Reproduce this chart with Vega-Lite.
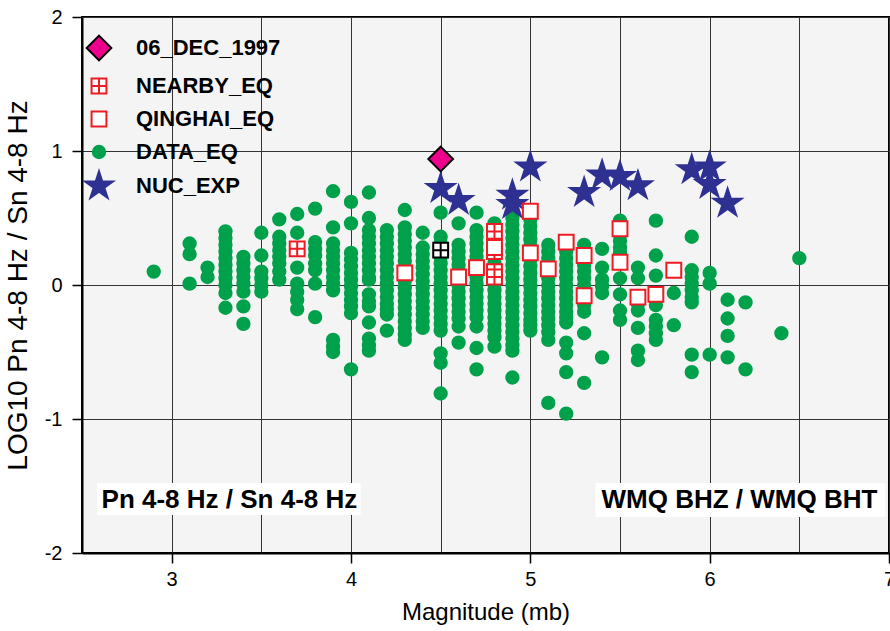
{
 "$schema": "https://vega.github.io/schema/vega-lite/v6.json",
 "width": 807,
 "height": 536,
 "autosize": "none",
 "padding": {"left": 82, "top": 17, "right": 1, "bottom": 78},
 "background": "white",
 "config": {
  "font": "Liberation Sans",
  "view": {"fill": "#f4f4f4", "stroke": "#000000", "strokeWidth": 2},
  "axis": {
   "domainColor": "#000000", "domainWidth": 2,
   "tickColor": "#000000", "tickWidth": 1.5, "tickSize": 10,
   "gridColor": "#333333", "gridWidth": 1, "gridOpacity": 1,
   "labelFont": "Liberation Sans", "labelFontSize": 20, "labelColor": "#000000",
   "titleFont": "Liberation Sans", "titleFontWeight": "normal", "titleColor": "#000000"
  },
  "axisX": {"labelPadding": 6, "titlePadding": 11, "titleFontSize": 24},
  "axisY": {"labelPadding": 10, "titlePadding": 12, "titleFontSize": 28},
  "legend": {
   "labelFont": "Liberation Sans", "labelFontWeight": "bold", "labelFontSize": 22, "labelColor": "#000000",
   "labelOffset": 20, "labelLimit": 300, "symbolSize": 1000, "symbolStrokeWidth": 2, "rowPadding": 4,
   "symbolOpacity": 1, "padding": 0
  }
 },
 "datasets": {
  "pts": [
   {"m":2.9,"r":0.10,"t":"DATA_EQ"},
   {"m":3.1,"r":0.31,"t":"DATA_EQ"},{"m":3.1,"r":0.23,"t":"DATA_EQ"},{"m":3.1,"r":0.01,"t":"DATA_EQ"},
   {"m":3.2,"r":0.13,"t":"DATA_EQ"},{"m":3.2,"r":0.06,"t":"DATA_EQ"},
   {"m":3.3,"r":0.40,"t":"DATA_EQ"},{"m":3.3,"r":0.35,"t":"DATA_EQ"},{"m":3.3,"r":0.30,"t":"DATA_EQ"},{"m":3.3,"r":0.25,"t":"DATA_EQ"},{"m":3.3,"r":0.20,"t":"DATA_EQ"},{"m":3.3,"r":0.15,"t":"DATA_EQ"},{"m":3.3,"r":0.10,"t":"DATA_EQ"},{"m":3.3,"r":0.05,"t":"DATA_EQ"},{"m":3.3,"r":0.00,"t":"DATA_EQ"},{"m":3.3,"r":-0.06,"t":"DATA_EQ"},{"m":3.3,"r":-0.17,"t":"DATA_EQ"},
   {"m":3.4,"r":0.21,"t":"DATA_EQ"},{"m":3.4,"r":0.16,"t":"DATA_EQ"},{"m":3.4,"r":0.11,"t":"DATA_EQ"},{"m":3.4,"r":0.06,"t":"DATA_EQ"},{"m":3.4,"r":0.01,"t":"DATA_EQ"},{"m":3.4,"r":-0.05,"t":"DATA_EQ"},{"m":3.4,"r":-0.16,"t":"DATA_EQ"},{"m":3.4,"r":-0.29,"t":"DATA_EQ"},
   {"m":3.5,"r":0.39,"t":"DATA_EQ"},{"m":3.5,"r":0.22,"t":"DATA_EQ"},{"m":3.5,"r":0.10,"t":"DATA_EQ"},{"m":3.5,"r":0.05,"t":"DATA_EQ"},{"m":3.5,"r":0.00,"t":"DATA_EQ"},{"m":3.5,"r":-0.05,"t":"DATA_EQ"},
   {"m":3.6,"r":0.49,"t":"DATA_EQ"},{"m":3.6,"r":0.36,"t":"DATA_EQ"},{"m":3.6,"r":0.31,"t":"DATA_EQ"},{"m":3.6,"r":0.26,"t":"DATA_EQ"},{"m":3.6,"r":0.21,"t":"DATA_EQ"},{"m":3.6,"r":0.16,"t":"DATA_EQ"},{"m":3.6,"r":0.10,"t":"DATA_EQ"},{"m":3.6,"r":0.04,"t":"DATA_EQ"},
   {"m":3.7,"r":0.53,"t":"DATA_EQ"},{"m":3.7,"r":0.39,"t":"DATA_EQ"},{"m":3.7,"r":0.13,"t":"DATA_EQ"},{"m":3.7,"r":0.01,"t":"DATA_EQ"},{"m":3.7,"r":-0.05,"t":"DATA_EQ"},{"m":3.7,"r":-0.11,"t":"DATA_EQ"},{"m":3.7,"r":-0.18,"t":"DATA_EQ"},
   {"m":3.8,"r":0.57,"t":"DATA_EQ"},{"m":3.8,"r":0.32,"t":"DATA_EQ"},{"m":3.8,"r":0.27,"t":"DATA_EQ"},{"m":3.8,"r":0.22,"t":"DATA_EQ"},{"m":3.8,"r":0.16,"t":"DATA_EQ"},{"m":3.8,"r":0.11,"t":"DATA_EQ"},{"m":3.8,"r":0.01,"t":"DATA_EQ"},{"m":3.8,"r":-0.24,"t":"DATA_EQ"},
   {"m":3.9,"r":0.70,"t":"DATA_EQ"},{"m":3.9,"r":0.43,"t":"DATA_EQ"},{"m":3.9,"r":0.31,"t":"DATA_EQ"},{"m":3.9,"r":0.26,"t":"DATA_EQ"},{"m":3.9,"r":0.21,"t":"DATA_EQ"},{"m":3.9,"r":0.16,"t":"DATA_EQ"},{"m":3.9,"r":0.11,"t":"DATA_EQ"},{"m":3.9,"r":0.06,"t":"DATA_EQ"},{"m":3.9,"r":0.01,"t":"DATA_EQ"},{"m":3.9,"r":-0.04,"t":"DATA_EQ"},{"m":3.9,"r":-0.41,"t":"DATA_EQ"},{"m":3.9,"r":-0.46,"t":"DATA_EQ"},{"m":3.9,"r":-0.50,"t":"DATA_EQ"},
   {"m":4.0,"r":0.62,"t":"DATA_EQ"},{"m":4.0,"r":0.46,"t":"DATA_EQ"},{"m":4.0,"r":0.24,"t":"DATA_EQ"},{"m":4.0,"r":0.19,"t":"DATA_EQ"},{"m":4.0,"r":0.14,"t":"DATA_EQ"},{"m":4.0,"r":0.09,"t":"DATA_EQ"},{"m":4.0,"r":0.04,"t":"DATA_EQ"},{"m":4.0,"r":-0.01,"t":"DATA_EQ"},{"m":4.0,"r":-0.06,"t":"DATA_EQ"},{"m":4.0,"r":-0.11,"t":"DATA_EQ"},{"m":4.0,"r":-0.16,"t":"DATA_EQ"},{"m":4.0,"r":-0.21,"t":"DATA_EQ"},{"m":4.0,"r":-0.63,"t":"DATA_EQ"},
   {"m":4.1,"r":0.69,"t":"DATA_EQ"},{"m":4.1,"r":0.50,"t":"DATA_EQ"},{"m":4.1,"r":0.41,"t":"DATA_EQ"},{"m":4.1,"r":0.36,"t":"DATA_EQ"},{"m":4.1,"r":0.31,"t":"DATA_EQ"},{"m":4.1,"r":0.26,"t":"DATA_EQ"},{"m":4.1,"r":0.21,"t":"DATA_EQ"},{"m":4.1,"r":0.16,"t":"DATA_EQ"},{"m":4.1,"r":0.11,"t":"DATA_EQ"},{"m":4.1,"r":0.06,"t":"DATA_EQ"},{"m":4.1,"r":0.04,"t":"DATA_EQ"},{"m":4.1,"r":-0.07,"t":"DATA_EQ"},{"m":4.1,"r":-0.12,"t":"DATA_EQ"},{"m":4.1,"r":-0.16,"t":"DATA_EQ"},{"m":4.1,"r":-0.28,"t":"DATA_EQ"},{"m":4.1,"r":-0.40,"t":"DATA_EQ"},{"m":4.1,"r":-0.45,"t":"DATA_EQ"},{"m":4.1,"r":-0.49,"t":"DATA_EQ"},
   {"m":4.2,"r":0.41,"t":"DATA_EQ"},{"m":4.2,"r":0.36,"t":"DATA_EQ"},{"m":4.2,"r":0.31,"t":"DATA_EQ"},{"m":4.2,"r":0.26,"t":"DATA_EQ"},{"m":4.2,"r":0.21,"t":"DATA_EQ"},{"m":4.2,"r":0.16,"t":"DATA_EQ"},{"m":4.2,"r":0.11,"t":"DATA_EQ"},{"m":4.2,"r":0.06,"t":"DATA_EQ"},{"m":4.2,"r":0.01,"t":"DATA_EQ"},{"m":4.2,"r":-0.04,"t":"DATA_EQ"},{"m":4.2,"r":-0.09,"t":"DATA_EQ"},{"m":4.2,"r":-0.14,"t":"DATA_EQ"},{"m":4.2,"r":-0.18,"t":"DATA_EQ"},{"m":4.2,"r":-0.22,"t":"DATA_EQ"},{"m":4.2,"r":-0.34,"t":"DATA_EQ"},
   {"m":4.3,"r":0.56,"t":"DATA_EQ"},{"m":4.3,"r":0.43,"t":"DATA_EQ"},{"m":4.3,"r":0.38,"t":"DATA_EQ"},{"m":4.3,"r":0.33,"t":"DATA_EQ"},{"m":4.3,"r":0.28,"t":"DATA_EQ"},{"m":4.3,"r":0.23,"t":"DATA_EQ"},{"m":4.3,"r":0.18,"t":"DATA_EQ"},{"m":4.3,"r":0.13,"t":"DATA_EQ"},{"m":4.3,"r":0.08,"t":"DATA_EQ"},{"m":4.3,"r":0.03,"t":"DATA_EQ"},{"m":4.3,"r":-0.02,"t":"DATA_EQ"},{"m":4.3,"r":-0.07,"t":"DATA_EQ"},{"m":4.3,"r":-0.12,"t":"DATA_EQ"},{"m":4.3,"r":-0.17,"t":"DATA_EQ"},{"m":4.3,"r":-0.22,"t":"DATA_EQ"},{"m":4.3,"r":-0.27,"t":"DATA_EQ"},{"m":4.3,"r":-0.32,"t":"DATA_EQ"},{"m":4.3,"r":-0.37,"t":"DATA_EQ"},{"m":4.3,"r":-0.41,"t":"DATA_EQ"},
   {"m":4.4,"r":0.39,"t":"DATA_EQ"},{"m":4.4,"r":0.28,"t":"DATA_EQ"},{"m":4.4,"r":0.23,"t":"DATA_EQ"},{"m":4.4,"r":0.18,"t":"DATA_EQ"},{"m":4.4,"r":0.13,"t":"DATA_EQ"},{"m":4.4,"r":0.08,"t":"DATA_EQ"},{"m":4.4,"r":0.03,"t":"DATA_EQ"},{"m":4.4,"r":-0.02,"t":"DATA_EQ"},{"m":4.4,"r":-0.07,"t":"DATA_EQ"},{"m":4.4,"r":-0.12,"t":"DATA_EQ"},{"m":4.4,"r":-0.17,"t":"DATA_EQ"},{"m":4.4,"r":-0.22,"t":"DATA_EQ"},{"m":4.4,"r":-0.27,"t":"DATA_EQ"},{"m":4.4,"r":-0.32,"t":"DATA_EQ"},
   {"m":4.5,"r":0.54,"t":"DATA_EQ"},{"m":4.5,"r":0.36,"t":"DATA_EQ"},{"m":4.5,"r":0.31,"t":"DATA_EQ"},{"m":4.5,"r":0.26,"t":"DATA_EQ"},{"m":4.5,"r":0.21,"t":"DATA_EQ"},{"m":4.5,"r":0.16,"t":"DATA_EQ"},{"m":4.5,"r":0.11,"t":"DATA_EQ"},{"m":4.5,"r":0.06,"t":"DATA_EQ"},{"m":4.5,"r":0.01,"t":"DATA_EQ"},{"m":4.5,"r":-0.04,"t":"DATA_EQ"},{"m":4.5,"r":-0.09,"t":"DATA_EQ"},{"m":4.5,"r":-0.14,"t":"DATA_EQ"},{"m":4.5,"r":-0.19,"t":"DATA_EQ"},{"m":4.5,"r":-0.24,"t":"DATA_EQ"},{"m":4.5,"r":-0.29,"t":"DATA_EQ"},{"m":4.5,"r":-0.34,"t":"DATA_EQ"},{"m":4.5,"r":-0.51,"t":"DATA_EQ"},{"m":4.5,"r":-0.58,"t":"DATA_EQ"},{"m":4.5,"r":-0.81,"t":"DATA_EQ"},
   {"m":4.6,"r":0.46,"t":"DATA_EQ"},{"m":4.6,"r":0.30,"t":"DATA_EQ"},{"m":4.6,"r":0.25,"t":"DATA_EQ"},{"m":4.6,"r":0.20,"t":"DATA_EQ"},{"m":4.6,"r":0.15,"t":"DATA_EQ"},{"m":4.6,"r":0.10,"t":"DATA_EQ"},{"m":4.6,"r":0.05,"t":"DATA_EQ"},{"m":4.6,"r":0.00,"t":"DATA_EQ"},{"m":4.6,"r":-0.05,"t":"DATA_EQ"},{"m":4.6,"r":-0.10,"t":"DATA_EQ"},{"m":4.6,"r":-0.15,"t":"DATA_EQ"},{"m":4.6,"r":-0.20,"t":"DATA_EQ"},{"m":4.6,"r":-0.25,"t":"DATA_EQ"},{"m":4.6,"r":-0.31,"t":"DATA_EQ"},{"m":4.6,"r":-0.43,"t":"DATA_EQ"},
   {"m":4.7,"r":0.54,"t":"DATA_EQ"},{"m":4.7,"r":0.41,"t":"DATA_EQ"},{"m":4.7,"r":0.36,"t":"DATA_EQ"},{"m":4.7,"r":0.31,"t":"DATA_EQ"},{"m":4.7,"r":0.26,"t":"DATA_EQ"},{"m":4.7,"r":0.21,"t":"DATA_EQ"},{"m":4.7,"r":0.16,"t":"DATA_EQ"},{"m":4.7,"r":0.11,"t":"DATA_EQ"},{"m":4.7,"r":0.06,"t":"DATA_EQ"},{"m":4.7,"r":0.01,"t":"DATA_EQ"},{"m":4.7,"r":-0.04,"t":"DATA_EQ"},{"m":4.7,"r":-0.09,"t":"DATA_EQ"},{"m":4.7,"r":-0.14,"t":"DATA_EQ"},{"m":4.7,"r":-0.19,"t":"DATA_EQ"},{"m":4.7,"r":-0.24,"t":"DATA_EQ"},{"m":4.7,"r":-0.31,"t":"DATA_EQ"},{"m":4.7,"r":-0.47,"t":"DATA_EQ"},{"m":4.7,"r":-0.63,"t":"DATA_EQ"},
   {"m":4.8,"r":0.46,"t":"DATA_EQ"},{"m":4.8,"r":0.41,"t":"DATA_EQ"},{"m":4.8,"r":0.36,"t":"DATA_EQ"},{"m":4.8,"r":0.31,"t":"DATA_EQ"},{"m":4.8,"r":0.26,"t":"DATA_EQ"},{"m":4.8,"r":0.21,"t":"DATA_EQ"},{"m":4.8,"r":0.16,"t":"DATA_EQ"},{"m":4.8,"r":0.11,"t":"DATA_EQ"},{"m":4.8,"r":0.06,"t":"DATA_EQ"},{"m":4.8,"r":0.01,"t":"DATA_EQ"},{"m":4.8,"r":-0.04,"t":"DATA_EQ"},{"m":4.8,"r":-0.09,"t":"DATA_EQ"},{"m":4.8,"r":-0.14,"t":"DATA_EQ"},{"m":4.8,"r":-0.19,"t":"DATA_EQ"},{"m":4.8,"r":-0.24,"t":"DATA_EQ"},{"m":4.8,"r":-0.29,"t":"DATA_EQ"},{"m":4.8,"r":-0.34,"t":"DATA_EQ"},{"m":4.8,"r":-0.39,"t":"DATA_EQ"},{"m":4.8,"r":-0.46,"t":"DATA_EQ"},
   {"m":4.9,"r":0.50,"t":"DATA_EQ"},{"m":4.9,"r":0.45,"t":"DATA_EQ"},{"m":4.9,"r":0.40,"t":"DATA_EQ"},{"m":4.9,"r":0.35,"t":"DATA_EQ"},{"m":4.9,"r":0.30,"t":"DATA_EQ"},{"m":4.9,"r":0.25,"t":"DATA_EQ"},{"m":4.9,"r":0.20,"t":"DATA_EQ"},{"m":4.9,"r":0.15,"t":"DATA_EQ"},{"m":4.9,"r":0.10,"t":"DATA_EQ"},{"m":4.9,"r":0.05,"t":"DATA_EQ"},{"m":4.9,"r":0.00,"t":"DATA_EQ"},{"m":4.9,"r":-0.05,"t":"DATA_EQ"},{"m":4.9,"r":-0.10,"t":"DATA_EQ"},{"m":4.9,"r":-0.15,"t":"DATA_EQ"},{"m":4.9,"r":-0.20,"t":"DATA_EQ"},{"m":4.9,"r":-0.25,"t":"DATA_EQ"},{"m":4.9,"r":-0.30,"t":"DATA_EQ"},{"m":4.9,"r":-0.35,"t":"DATA_EQ"},{"m":4.9,"r":-0.40,"t":"DATA_EQ"},{"m":4.9,"r":-0.45,"t":"DATA_EQ"},{"m":4.9,"r":-0.49,"t":"DATA_EQ"},{"m":4.9,"r":-0.69,"t":"DATA_EQ"},
   {"m":5.0,"r":0.54,"t":"DATA_EQ"},{"m":5.0,"r":0.49,"t":"DATA_EQ"},{"m":5.0,"r":0.44,"t":"DATA_EQ"},{"m":5.0,"r":0.39,"t":"DATA_EQ"},{"m":5.0,"r":0.34,"t":"DATA_EQ"},{"m":5.0,"r":0.29,"t":"DATA_EQ"},{"m":5.0,"r":0.24,"t":"DATA_EQ"},{"m":5.0,"r":0.19,"t":"DATA_EQ"},{"m":5.0,"r":0.14,"t":"DATA_EQ"},{"m":5.0,"r":0.09,"t":"DATA_EQ"},{"m":5.0,"r":0.04,"t":"DATA_EQ"},{"m":5.0,"r":-0.01,"t":"DATA_EQ"},{"m":5.0,"r":-0.06,"t":"DATA_EQ"},{"m":5.0,"r":-0.11,"t":"DATA_EQ"},{"m":5.0,"r":-0.16,"t":"DATA_EQ"},{"m":5.0,"r":-0.21,"t":"DATA_EQ"},{"m":5.0,"r":-0.26,"t":"DATA_EQ"},{"m":5.0,"r":-0.30,"t":"DATA_EQ"},{"m":5.0,"r":-0.34,"t":"DATA_EQ"},
   {"m":5.1,"r":0.30,"t":"DATA_EQ"},{"m":5.1,"r":0.25,"t":"DATA_EQ"},{"m":5.1,"r":0.20,"t":"DATA_EQ"},{"m":5.1,"r":0.15,"t":"DATA_EQ"},{"m":5.1,"r":0.10,"t":"DATA_EQ"},{"m":5.1,"r":0.05,"t":"DATA_EQ"},{"m":5.1,"r":0.00,"t":"DATA_EQ"},{"m":5.1,"r":-0.05,"t":"DATA_EQ"},{"m":5.1,"r":-0.10,"t":"DATA_EQ"},{"m":5.1,"r":-0.15,"t":"DATA_EQ"},{"m":5.1,"r":-0.20,"t":"DATA_EQ"},{"m":5.1,"r":-0.25,"t":"DATA_EQ"},{"m":5.1,"r":-0.30,"t":"DATA_EQ"},{"m":5.1,"r":-0.35,"t":"DATA_EQ"},{"m":5.1,"r":-0.41,"t":"DATA_EQ"},{"m":5.1,"r":-0.88,"t":"DATA_EQ"},
   {"m":5.2,"r":0.30,"t":"DATA_EQ"},{"m":5.2,"r":0.25,"t":"DATA_EQ"},{"m":5.2,"r":0.20,"t":"DATA_EQ"},{"m":5.2,"r":0.15,"t":"DATA_EQ"},{"m":5.2,"r":0.10,"t":"DATA_EQ"},{"m":5.2,"r":0.05,"t":"DATA_EQ"},{"m":5.2,"r":0.00,"t":"DATA_EQ"},{"m":5.2,"r":-0.05,"t":"DATA_EQ"},{"m":5.2,"r":-0.10,"t":"DATA_EQ"},{"m":5.2,"r":-0.15,"t":"DATA_EQ"},{"m":5.2,"r":-0.20,"t":"DATA_EQ"},{"m":5.2,"r":-0.24,"t":"DATA_EQ"},{"m":5.2,"r":-0.28,"t":"DATA_EQ"},{"m":5.2,"r":-0.43,"t":"DATA_EQ"},{"m":5.2,"r":-0.51,"t":"DATA_EQ"},{"m":5.2,"r":-0.65,"t":"DATA_EQ"},{"m":5.2,"r":-0.96,"t":"DATA_EQ"},
   {"m":5.3,"r":0.30,"t":"DATA_EQ"},{"m":5.3,"r":0.25,"t":"DATA_EQ"},{"m":5.3,"r":0.20,"t":"DATA_EQ"},{"m":5.3,"r":0.15,"t":"DATA_EQ"},{"m":5.3,"r":0.10,"t":"DATA_EQ"},{"m":5.3,"r":0.05,"t":"DATA_EQ"},{"m":5.3,"r":0.00,"t":"DATA_EQ"},{"m":5.3,"r":-0.05,"t":"DATA_EQ"},{"m":5.3,"r":-0.10,"t":"DATA_EQ"},{"m":5.3,"r":-0.15,"t":"DATA_EQ"},{"m":5.3,"r":-0.20,"t":"DATA_EQ"},{"m":5.3,"r":-0.36,"t":"DATA_EQ"},{"m":5.3,"r":-0.73,"t":"DATA_EQ"},
   {"m":5.4,"r":0.27,"t":"DATA_EQ"},{"m":5.4,"r":0.13,"t":"DATA_EQ"},{"m":5.4,"r":0.04,"t":"DATA_EQ"},{"m":5.4,"r":-0.01,"t":"DATA_EQ"},{"m":5.4,"r":-0.06,"t":"DATA_EQ"},{"m":5.4,"r":-0.54,"t":"DATA_EQ"},
   {"m":5.5,"r":0.48,"t":"DATA_EQ"},{"m":5.5,"r":0.43,"t":"DATA_EQ"},{"m":5.5,"r":0.38,"t":"DATA_EQ"},{"m":5.5,"r":0.33,"t":"DATA_EQ"},{"m":5.5,"r":0.28,"t":"DATA_EQ"},{"m":5.5,"r":0.24,"t":"DATA_EQ"},{"m":5.5,"r":0.05,"t":"DATA_EQ"},{"m":5.5,"r":-0.07,"t":"DATA_EQ"},{"m":5.5,"r":-0.19,"t":"DATA_EQ"},{"m":5.5,"r":-0.26,"t":"DATA_EQ"},
   {"m":5.6,"r":0.13,"t":"DATA_EQ"},{"m":5.6,"r":0.05,"t":"DATA_EQ"},{"m":5.6,"r":-0.09,"t":"DATA_EQ"},{"m":5.6,"r":-0.14,"t":"DATA_EQ"},{"m":5.6,"r":-0.19,"t":"DATA_EQ"},{"m":5.6,"r":-0.32,"t":"DATA_EQ"},{"m":5.6,"r":-0.49,"t":"DATA_EQ"},{"m":5.6,"r":-0.56,"t":"DATA_EQ"},
   {"m":5.7,"r":0.48,"t":"DATA_EQ"},{"m":5.7,"r":0.22,"t":"DATA_EQ"},{"m":5.7,"r":0.07,"t":"DATA_EQ"},{"m":5.7,"r":-0.15,"t":"DATA_EQ"},{"m":5.7,"r":-0.26,"t":"DATA_EQ"},{"m":5.7,"r":-0.31,"t":"DATA_EQ"},{"m":5.7,"r":-0.36,"t":"DATA_EQ"},{"m":5.7,"r":-0.41,"t":"DATA_EQ"},
   {"m":5.8,"r":-0.06,"t":"DATA_EQ"},{"m":5.8,"r":-0.30,"t":"DATA_EQ"},
   {"m":5.9,"r":0.36,"t":"DATA_EQ"},{"m":5.9,"r":0.11,"t":"DATA_EQ"},{"m":5.9,"r":0.06,"t":"DATA_EQ"},{"m":5.9,"r":0.01,"t":"DATA_EQ"},{"m":5.9,"r":-0.04,"t":"DATA_EQ"},{"m":5.9,"r":-0.09,"t":"DATA_EQ"},{"m":5.9,"r":-0.13,"t":"DATA_EQ"},{"m":5.9,"r":-0.52,"t":"DATA_EQ"},{"m":5.9,"r":-0.65,"t":"DATA_EQ"},
   {"m":6.0,"r":0.09,"t":"DATA_EQ"},{"m":6.0,"r":0.01,"t":"DATA_EQ"},{"m":6.0,"r":-0.52,"t":"DATA_EQ"},
   {"m":6.1,"r":-0.11,"t":"DATA_EQ"},{"m":6.1,"r":-0.25,"t":"DATA_EQ"},{"m":6.1,"r":-0.38,"t":"DATA_EQ"},{"m":6.1,"r":-0.54,"t":"DATA_EQ"},
   {"m":6.2,"r":-0.13,"t":"DATA_EQ"},{"m":6.2,"r":-0.63,"t":"DATA_EQ"},
   {"m":6.4,"r":-0.36,"t":"DATA_EQ"},
   {"m":6.5,"r":0.20,"t":"DATA_EQ"},
   {"m":4.5,"r":0.72,"t":"NUC_EXP"},{"m":4.6,"r":0.63,"t":"NUC_EXP"},{"m":4.9,"r":0.67,"t":"NUC_EXP"},{"m":4.9,"r":0.60,"t":"NUC_EXP"},{"m":5.0,"r":0.88,"t":"NUC_EXP"},{"m":5.3,"r":0.69,"t":"NUC_EXP"},{"m":5.4,"r":0.82,"t":"NUC_EXP"},{"m":5.5,"r":0.81,"t":"NUC_EXP"},{"m":5.6,"r":0.74,"t":"NUC_EXP"},{"m":5.9,"r":0.86,"t":"NUC_EXP"},{"m":6.0,"r":0.88,"t":"NUC_EXP"},{"m":6.0,"r":0.75,"t":"NUC_EXP"},{"m":6.1,"r":0.61,"t":"NUC_EXP"},
   {"m":3.7,"r":0.27,"t":"NEARBY_EQ"},{"m":4.8,"r":0.40,"t":"NEARBY_EQ"},{"m":4.8,"r":0.25,"t":"NEARBY_EQ"},{"m":4.8,"r":0.10,"t":"NEARBY_EQ"},{"m":4.8,"r":0.06,"t":"NEARBY_EQ"},
   {"m":4.3,"r":0.09,"t":"QINGHAI_EQ"},{"m":4.6,"r":0.06,"t":"QINGHAI_EQ"},{"m":4.7,"r":0.13,"t":"QINGHAI_EQ"},{"m":4.8,"r":0.28,"t":"QINGHAI_EQ"},{"m":5.0,"r":0.55,"t":"QINGHAI_EQ"},{"m":5.0,"r":0.24,"t":"QINGHAI_EQ"},{"m":5.1,"r":0.12,"t":"QINGHAI_EQ"},{"m":5.2,"r":0.32,"t":"QINGHAI_EQ"},{"m":5.3,"r":0.22,"t":"QINGHAI_EQ"},{"m":5.3,"r":-0.08,"t":"QINGHAI_EQ"},{"m":5.5,"r":0.42,"t":"QINGHAI_EQ"},{"m":5.5,"r":0.17,"t":"QINGHAI_EQ"},{"m":5.6,"r":-0.09,"t":"QINGHAI_EQ"},{"m":5.7,"r":-0.07,"t":"QINGHAI_EQ"},{"m":5.8,"r":0.11,"t":"QINGHAI_EQ"},
   {"m":4.5,"r":0.94,"t":"06_DEC_1997"}
  ]
 },
 "layer": [
  {
   "data": {"name": "pts"},
   "mark": {"type": "point", "filled": true, "opacity": 1, "strokeWidth": 2, "size": 1000},
   "encoding": {
    "x": {"field": "m", "type": "quantitative",
     "scale": {"domain": [2.5, 7], "nice": false, "zero": false},
     "axis": {"title": "Magnitude (mb)", "grid": true,
      "values": [2.5, 3, 3.5, 4, 4.5, 5, 5.5, 6, 6.5, 7],
      "labelExpr": "datum.value % 1 === 0 ? '' + datum.value : ''",
      "tickOpacity": {"condition": {"test": "datum.value % 1 !== 0", "value": 0}, "value": 1},
      "labelOverlap": false, "labelFlush": false, "labelBound": false}},
    "y": {"field": "r", "type": "quantitative",
     "scale": {"domain": [-2, 2], "nice": false, "zero": false},
     "axis": {"title": "LOG10 Pn 4-8 Hz / Sn 4-8 Hz", "grid": true, "values": [-2, -1, 0, 1, 2],
      "labelExpr": "'' + datum.value", "labelOverlap": false, "labelFlush": false}},
    "shape": {"field": "t", "type": "nominal",
     "scale": {"domain": ["06_DEC_1997", "NEARBY_EQ", "QINGHAI_EQ", "DATA_EQ", "NUC_EXP"],
      "range": ["M0,-0.78L0.78,0L0,0.78L-0.78,0Z",
                "M-0.47,-0.47H0.47V0.47H-0.47ZM0,-0.47V0.47M-0.47,0H0.47",
                "M-0.47,-0.47H0.47V0.47H-0.47Z",
                "M0.39,0A0.39,0.39,0,1,1,-0.39,0A0.39,0.39,0,1,1,0.39,0Z",
                "M0,-0.93L0.209,-0.287L0.884,-0.287L0.338,0.11L0.547,0.752L0,0.355L-0.547,0.752L-0.338,0.11L-0.884,-0.287L-0.209,-0.287Z"]},
     "legend": {"title": null, "orient": "none", "legendX": 0, "legendY": 14}},
    "fill": {"field": "t", "type": "nominal",
     "scale": {"domain": ["06_DEC_1997", "NEARBY_EQ", "QINGHAI_EQ", "DATA_EQ", "NUC_EXP"],
      "range": ["#ec008c", "#ffffff", "#ffffff", "#00a14b", "#2e3192"]},
     "legend": {"title": null, "orient": "none", "legendX": 0, "legendY": 14}},
    "stroke": {"field": "t", "type": "nominal",
     "scale": {"domain": ["06_DEC_1997", "NEARBY_EQ", "QINGHAI_EQ", "DATA_EQ", "NUC_EXP"],
      "range": ["#000000", "#ed1c24", "#ed1c24", "#00a14b", "#2e3192"]},
     "legend": {"title": null, "orient": "none", "legendX": 0, "legendY": 14}}
   }
  },
  {
   "data": {"values": [{"m": 4.5, "r": 0.26}]},
   "mark": {"type": "point", "filled": true, "opacity": 1, "fill": "#ffffff", "stroke": "#000000", "strokeWidth": 2, "size": 1000,
    "shape": "M-0.47,-0.47H0.47V0.47H-0.47ZM0,-0.47V0.47M-0.47,0H0.47"},
   "encoding": {
    "x": {"field": "m", "type": "quantitative"},
    "y": {"field": "r", "type": "quantitative"}
   }
  },
  {
   "data": {"values": [{}]},
   "mark": {"type": "rect", "fill": "#ffffff"},
   "encoding": {
    "x": {"datum": 2.584, "type": "quantitative"}, "x2": {"datum": 4.054},
    "y": {"datum": -1.478, "type": "quantitative"}, "y2": {"datum": -1.716}
   }
  },
  {
   "data": {"values": [{}]},
   "mark": {"type": "rect", "fill": "#ffffff"},
   "encoding": {
    "x": {"datum": 5.363, "type": "quantitative"}, "x2": {"datum": 6.979},
    "y": {"datum": -1.478, "type": "quantitative"}, "y2": {"datum": -1.731}
   }
  },
  {
   "data": {"values": [{}]},
   "mark": {"type": "text", "font": "Liberation Sans", "fontWeight": "bold", "fontSize": 26, "align": "center", "baseline": "middle", "color": "#000000"},
   "encoding": {
    "x": {"datum": 3.322, "type": "quantitative"},
    "y": {"datum": -1.604, "type": "quantitative"},
    "text": {"value": "Pn 4-8 Hz / Sn 4-8 Hz"}
   }
  },
  {
   "data": {"values": [{}]},
   "mark": {"type": "text", "font": "Liberation Sans", "fontWeight": "bold", "fontSize": 26, "align": "center", "baseline": "middle", "color": "#000000"},
   "encoding": {
    "x": {"datum": 6.166, "type": "quantitative"},
    "y": {"datum": -1.604, "type": "quantitative"},
    "text": {"value": "WMQ BHZ / WMQ BHT"}
   }
  }
 ]
}
